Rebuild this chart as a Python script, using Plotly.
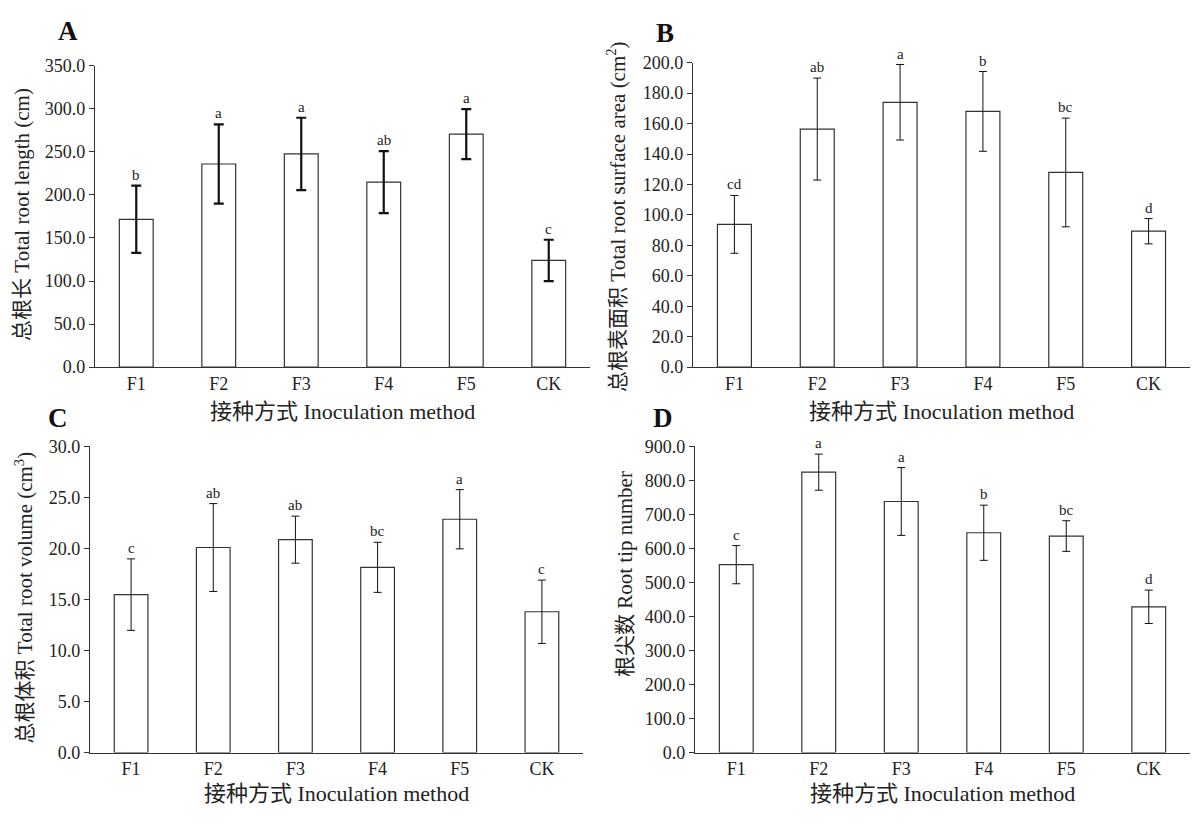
import plotly.graph_objects as go

W, H = 1197, 828

groups = ["F1", "F2", "F3", "F4", "F5", "CK"]

# A 总根长
length_mean = [171.6, 235.8, 247.5, 214.8, 270.4, 123.9]
length_err = [39.0, 46.0, 42.0, 36.0, 29.0, 24.0]
length_sig = ["b", "a", "a", "ab", "a", "c"]

# B 总根表面积
area_mean = [93.8, 156.4, 174.0, 168.0, 127.9, 89.3]
area_err = [19.0, 33.5, 24.8, 26.2, 35.7, 8.3]
area_sig = ["cd", "ab", "a", "b", "bc", "d"]

# C 总根体积
volume_mean = [15.47, 20.08, 20.85, 18.14, 22.85, 13.79]
volume_err = [3.5, 4.3, 2.3, 2.45, 2.9, 3.1]
volume_sig = ["c", "ab", "ab", "bc", "a", "c"]

# D 根尖数
tip_mean = [552.0, 823.7, 737.6, 645.8, 636.1, 428.3]
tip_err = [56.0, 53.0, 99.6, 81.0, 45.0, 49.0]
tip_sig = ["c", "a", "a", "b", "bc", "d"]

SERIF = "Liberation Serif, Times New Roman, serif"
CJK = "Liberation Serif, Noto Sans CJK SC, serif"
xtitle = "接种方式 Inoculation method"

# (panel letter, means, errs, sig, y max, dtick, y title,
#  px box [left, right, top, bottom], error thickness, letter pos, ytitle pos, xtitle y)
panels = [
    ("A", length_mean, length_err, length_sig, 350, 50,
     "总根长 Total root length (cm)",
     (95, 590, 57, 366), 2.2, (68, 22), (22, 210), 411),
    ("B", area_mean, area_err, area_sig, 200, 20,
     "总根表面积 Total root surface area (cm<sup>2</sup>)",
     (693, 1190, 54, 366), 1.0, (665, 24), (617, 212), 411),
    ("C", volume_mean, volume_err, volume_sig, 30, 5,
     "总根体积 Total root volume (cm<sup>3</sup>)",
     (90, 583, 447, 761), 1.0, (58, 418), (24, 602), 803),
    ("D", tip_mean, tip_err, tip_sig, 900, 100,
     "根尖数 Root tip number",
     (695, 1190, 447, 761), 1.0, (663, 418), (625, 578), 803),
]

fig = go.Figure()
annotations = []
layout_axes = {}

for i, (letter, mean, err, sig, ymax, dtick, ytitle, box, thick,
        lpos, ytpos, xty) in enumerate(panels, start=1):
    sfx = "" if i == 1 else str(i)
    left, right, top, bottom = box
    xa = "x" + sfx
    ya = "y" + sfx

    fig.add_trace(go.Bar(
        x=groups, y=mean, xaxis=xa, yaxis=ya, width=0.41,
        marker=dict(color="white", line=dict(color="#333333", width=1.2)),
        error_y=dict(type="data", array=err, visible=True,
                     color="#111111", thickness=thick,
                     width=5 if thick > 1.5 else 4),
        showlegend=False, hoverinfo="skip",
    ))

    for g, m, e, s in zip(groups, mean, err, sig):
        annotations.append(dict(
            x=g, y=m + e, xref=xa, yref=ya, text=s, showarrow=False,
            xanchor="center", yanchor="bottom", yshift=1,
            font=dict(family=SERIF, size=15, color="#222222"),
        ))

    layout_axes["xaxis" + sfx] = dict(
        domain=[left / W, right / W], anchor=ya,
        range=[-0.5, 5.5], showline=True, linecolor="#333333", linewidth=1.2,
        ticks="", showgrid=False, zeroline=False,
        tickfont=dict(family=SERIF, size=18, color="#222222"),
    )
    layout_axes["yaxis" + sfx] = dict(
        domain=[1 - bottom / H, 1 - top / H], anchor=xa,
        range=[0, ymax], dtick=dtick, tickformat=".1f",
        showline=True, linecolor="#333333", linewidth=1.2,
        ticks="outside", ticklen=5, tickcolor="#333333",
        showgrid=False, zeroline=False,
        tickfont=dict(family=SERIF, size=18, color="#222222"),
    )

    annotations.append(dict(
        x=lpos[0] / W, y=1 - lpos[1] / H, xref="paper", yref="paper",
        xanchor="center", yanchor="middle",
        text="<b>%s</b>" % letter, showarrow=False,
        font=dict(family=SERIF, size=27, color="#111111"),
    ))
    annotations.append(dict(
        x=ytpos[0] / W, y=1 - ytpos[1] / H, xref="paper", yref="paper",
        xanchor="center", yanchor="middle",
        text=ytitle, textangle=-90, showarrow=False,
        font=dict(family=CJK, size=21, color="#222222"),
    ))
    annotations.append(dict(
        x=(left + right) / 2 / W, y=1 - xty / H, xref="paper", yref="paper",
        xanchor="center", yanchor="middle",
        text=xtitle, showarrow=False,
        font=dict(family=CJK, size=22, color="#222222"),
    ))

fig.update_layout(
    width=W, height=H,
    margin=dict(l=0, r=0, t=0, b=0),
    paper_bgcolor="white", plot_bgcolor="white",
    annotations=annotations,
    **layout_axes,
)

fig.write_html("out.html", config={"displayModeBar": False},
               post_script="document.body.style.margin='0';")
